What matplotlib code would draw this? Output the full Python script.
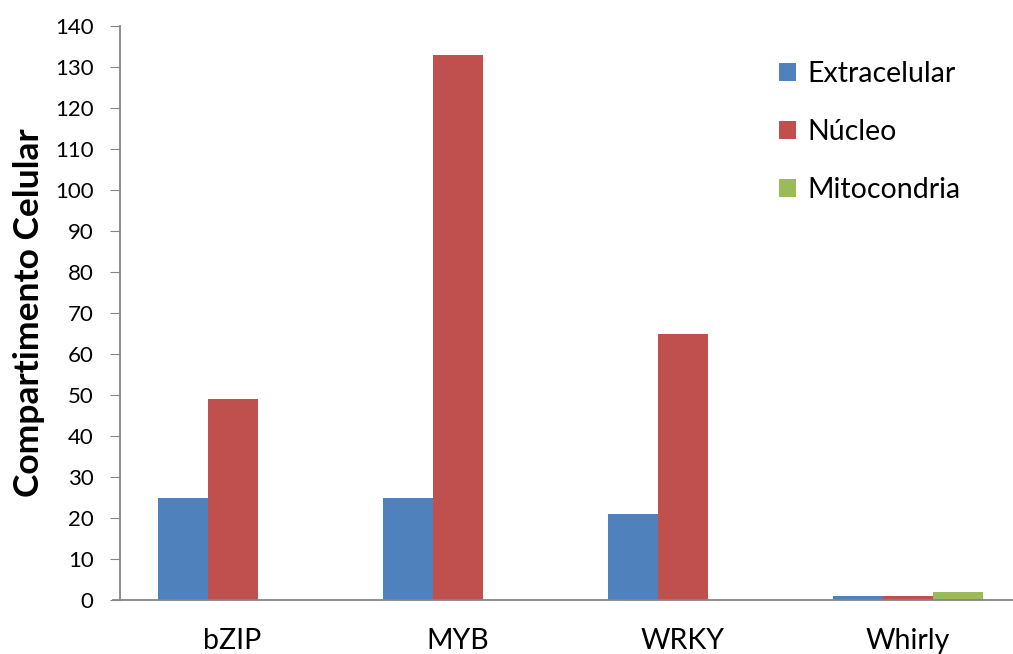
import matplotlib.pyplot as plt
import numpy as np

familias = ["bZIP", "MYB", "WRKY", "Whirly"]
series = ["Extracelular", "Núcleo", "Mitocondria"]
extracelular = [25, 25, 21, 1]
nucleo = [49, 133, 65, 1]
mitocondria = [0, 0, 0, 2]
colores = ["#4F81BD", "#C0504D", "#9BBB59"]

plt.rcParams['font.family'] = ['Lato', 'DejaVu Sans']

fig = plt.figure(figsize=(10.13, 6.54), dpi=100)
ax = fig.add_axes([120 / 1013, 1 - 600 / 654, 900 / 1013, 574 / 654])

x = np.arange(len(familias))
w = 1 / 4.5
for i, (nombre, vals) in enumerate(zip(series, [extracelular, nucleo, mitocondria])):
    ax.bar(x + (i - 1) * w, vals, w, color=colores[i], label=nombre, zorder=2)

ax.set_xlim(-0.5, len(familias) - 0.5)
ax.set_ylim(0, 140)
ax.set_yticks(range(0, 141, 10))
ax.set_xticks(x)
ax.set_xticklabels(familias, fontsize=20.5)
ax.tick_params(axis='x', length=0, pad=20)
ax.tick_params(axis='y', labelsize=16, length=7, color='#868686', pad=12)
for s in ['top', 'right']:
    ax.spines[s].set_visible(False)
for s in ['left', 'bottom']:
    ax.spines[s].set_color('#868686')
    ax.spines[s].set_linewidth(1.3)
ax.spines['bottom'].set_bounds(-0.5 - 7 / 225, len(familias) - 0.5)
ax.spines['bottom'].set_clip_on(False)
ax.set_ylabel("Compartimento Celular", fontsize=25.5, fontweight='bold', labelpad=7)

leg = ax.legend(loc='upper left', bbox_to_anchor=(0.704, 0.983), frameon=False,
                fontsize=20.5, handlelength=0.6, handleheight=0.6,
                handletextpad=0.4, labelspacing=1.12)

fig.savefig("out.png", dpi=100)
